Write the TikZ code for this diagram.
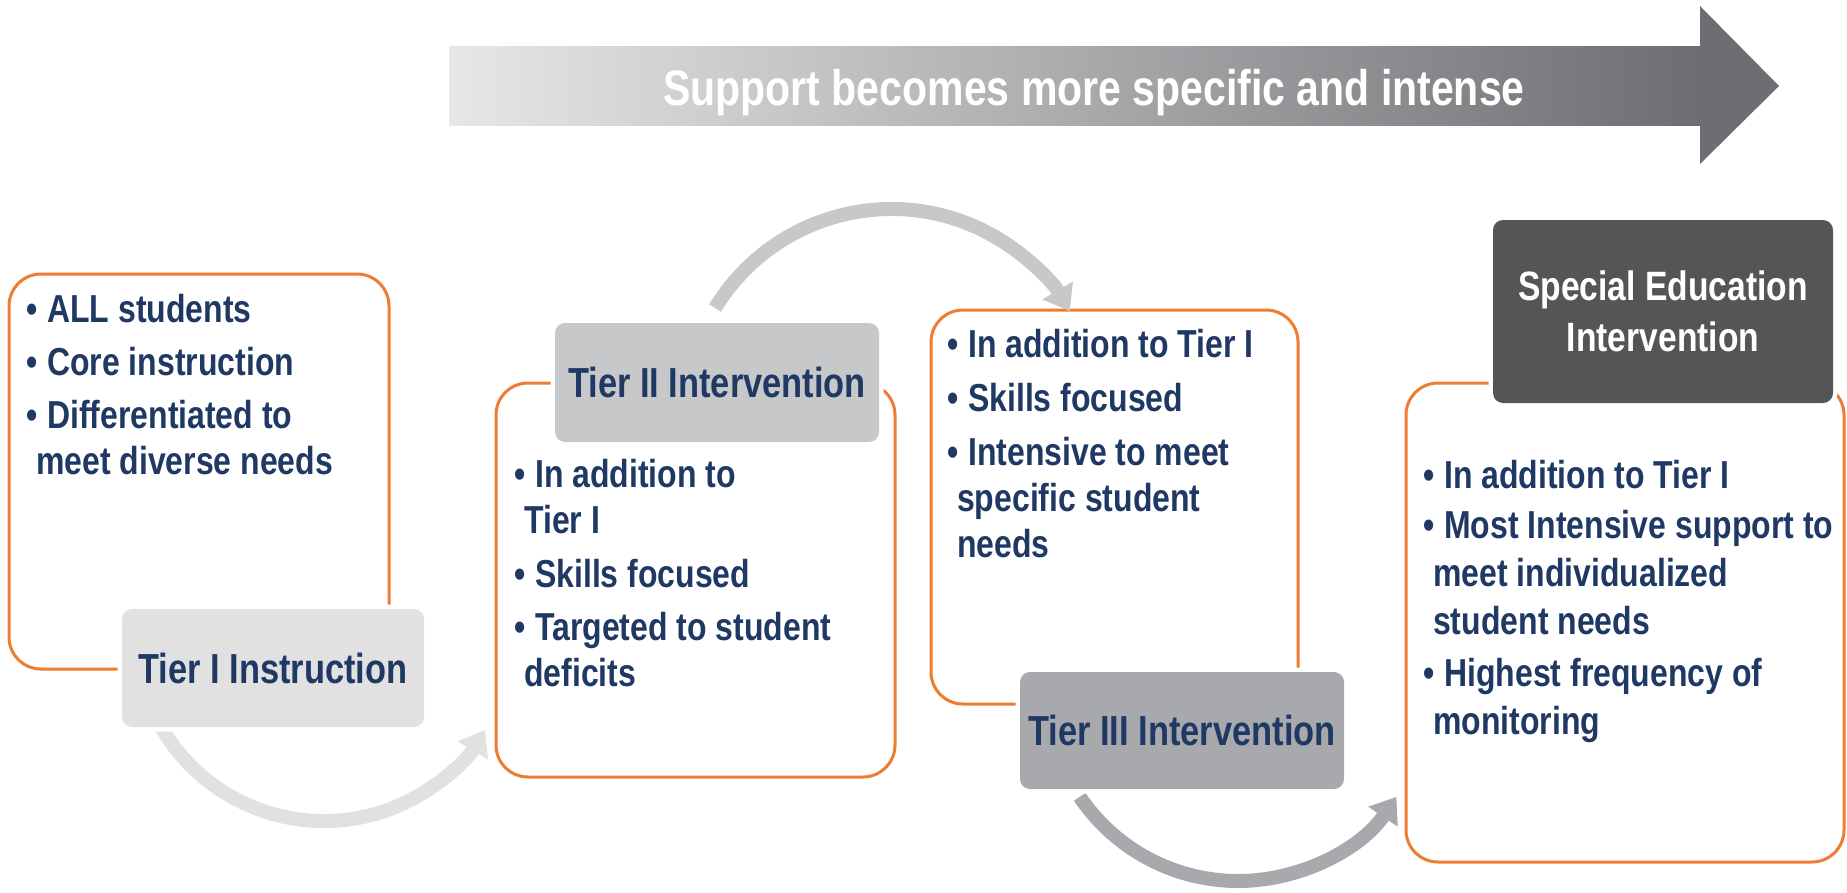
\documentclass[tikz,border=0pt]{standalone}
\usepackage{fontspec}
\setmainfont{Liberation Sans}[FakeStretch=0.82]
\usetikzlibrary{arrows.meta}
\definecolor{navy}{HTML}{1F3864}
\definecolor{orng}{HTML}{ED7D31}
\definecolor{gA}{HTML}{E1E1E1}
\definecolor{gB}{HTML}{C7C8CA}
\definecolor{gC}{HTML}{A7A9AC}
\definecolor{gD}{HTML}{545557}
\definecolor{barL}{HTML}{E6E7E8}
\definecolor{barR}{HTML}{6D6E71}
\newcommand{\bulitem}{\makebox[21pt][l]{•}}
\newcommand{\contline}{\hspace*{10pt}}
\begin{document}
\begin{tikzpicture}[x=1pt,y=1pt,
  obox/.style={draw=orng, line width=3pt, rounded corners=32pt, fill=white, inner sep=0pt},
  lbl/.style={rounded corners=10pt, inner sep=0pt, text=navy,
    font=\fontsize{42}{50}\selectfont\bfseries,
    preaction={draw=white, line width=9pt}},
  body/.style={anchor=base west, inner sep=0pt, text=navy,
    font=\fontsize{39}{46}\selectfont\bfseries},
  carrow/.style={line width=14pt, -{Triangle[length=24pt,width=34pt]}},
]
\useasboundingbox (0,0) rectangle (1847,-892);

% top gradient arrow
\shade[left color=barL, right color=barR] (449,-46) rectangle (1700,-125);
\fill[barR] (1700,-6) -- (1779,-86) -- (1700,-164) -- cycle;
\node[anchor=base, inner sep=0pt, text=white, font=\fontsize{50}{60}\selectfont\bfseries]
  (toptext) at (1094,-105) {Support becomes more specific and intense};

% orange boxes
\node[obox, minimum width=380pt, minimum height=395pt] (b1) at (199,-471.5) {};
\node[obox, minimum width=399pt, minimum height=394pt] (b2) at (695.5,-580) {};
\node[obox, minimum width=367pt, minimum height=394pt] (b3) at (1114.5,-507) {};
\node[obox, minimum width=438pt, minimum height=479pt] (b4) at (1625,-622.5) {};

% curved arrows
\coordinate (a1s) at (156.5,-718.4);
\coordinate (a2s) at (715.1,-308);
\coordinate (a3s) at (1079.7,-796.8);
\draw[carrow, gA] (a1s) arc[start angle=207, end angle=329, radius=188];
\draw[carrow, gB] (a2s) arc[start angle=148.6, end angle=30.4, radius=206.7];
\draw[carrow, gC] (a3s) arc[start angle=214, end angle=326, radius=191];

% labels
\node[lbl, fill=gA, minimum width=302pt, minimum height=118pt] (l1) at (273,-668) {Tier I Instruction};
\node[lbl, fill=gB, minimum width=324pt, minimum height=119pt] (l2) at (717,-382.5) {Tier II Intervention};
\node[lbl, fill=gC, minimum width=324pt, minimum height=117pt] (l3) at (1182,-730.5) {Tier III Intervention};
\node[lbl, fill=gD, text=white, align=center, font=\fontsize{41}{51}\selectfont\bfseries,
  minimum width=340pt, minimum height=183pt] (l4) at (1663,-311.5) {Special Education\\Intervention};

% body texts
\node[body] (t1) at (26,-322) {\begin{tabular}[t]{@{}l@{}}
\bulitem ALL students\\[7pt]
\bulitem Core instruction\\[7pt]
\bulitem Differentiated to\\
\contline meet diverse needs
\end{tabular}};
\node[body] (t2) at (514,-487) {\begin{tabular}[t]{@{}l@{}}
\bulitem In addition to\\
\contline Tier I\\[8pt]
\bulitem Skills focused\\[7pt]
\bulitem Targeted to student\\
\contline deficits
\end{tabular}};
\node[body] (t3) at (947,-357) {\begin{tabular}[t]{@{}l@{}}
\bulitem In addition to Tier I\\[8pt]
\bulitem Skills focused\\[8pt]
\bulitem Intensive to meet\\
\contline specific student\\
\contline needs
\end{tabular}};
\node[body, font=\fontsize{39}{48}\selectfont\bfseries] (t4) at (1423,-488) {\begin{tabular}[t]{@{}l@{}}
\bulitem In addition to Tier I\\[2pt]
\bulitem Most Intensive support to\\
\contline meet individualized\\
\contline student needs\\[4pt]
\bulitem Highest frequency of\\
\contline monitoring
\end{tabular}};
\end{tikzpicture}
\end{document}
